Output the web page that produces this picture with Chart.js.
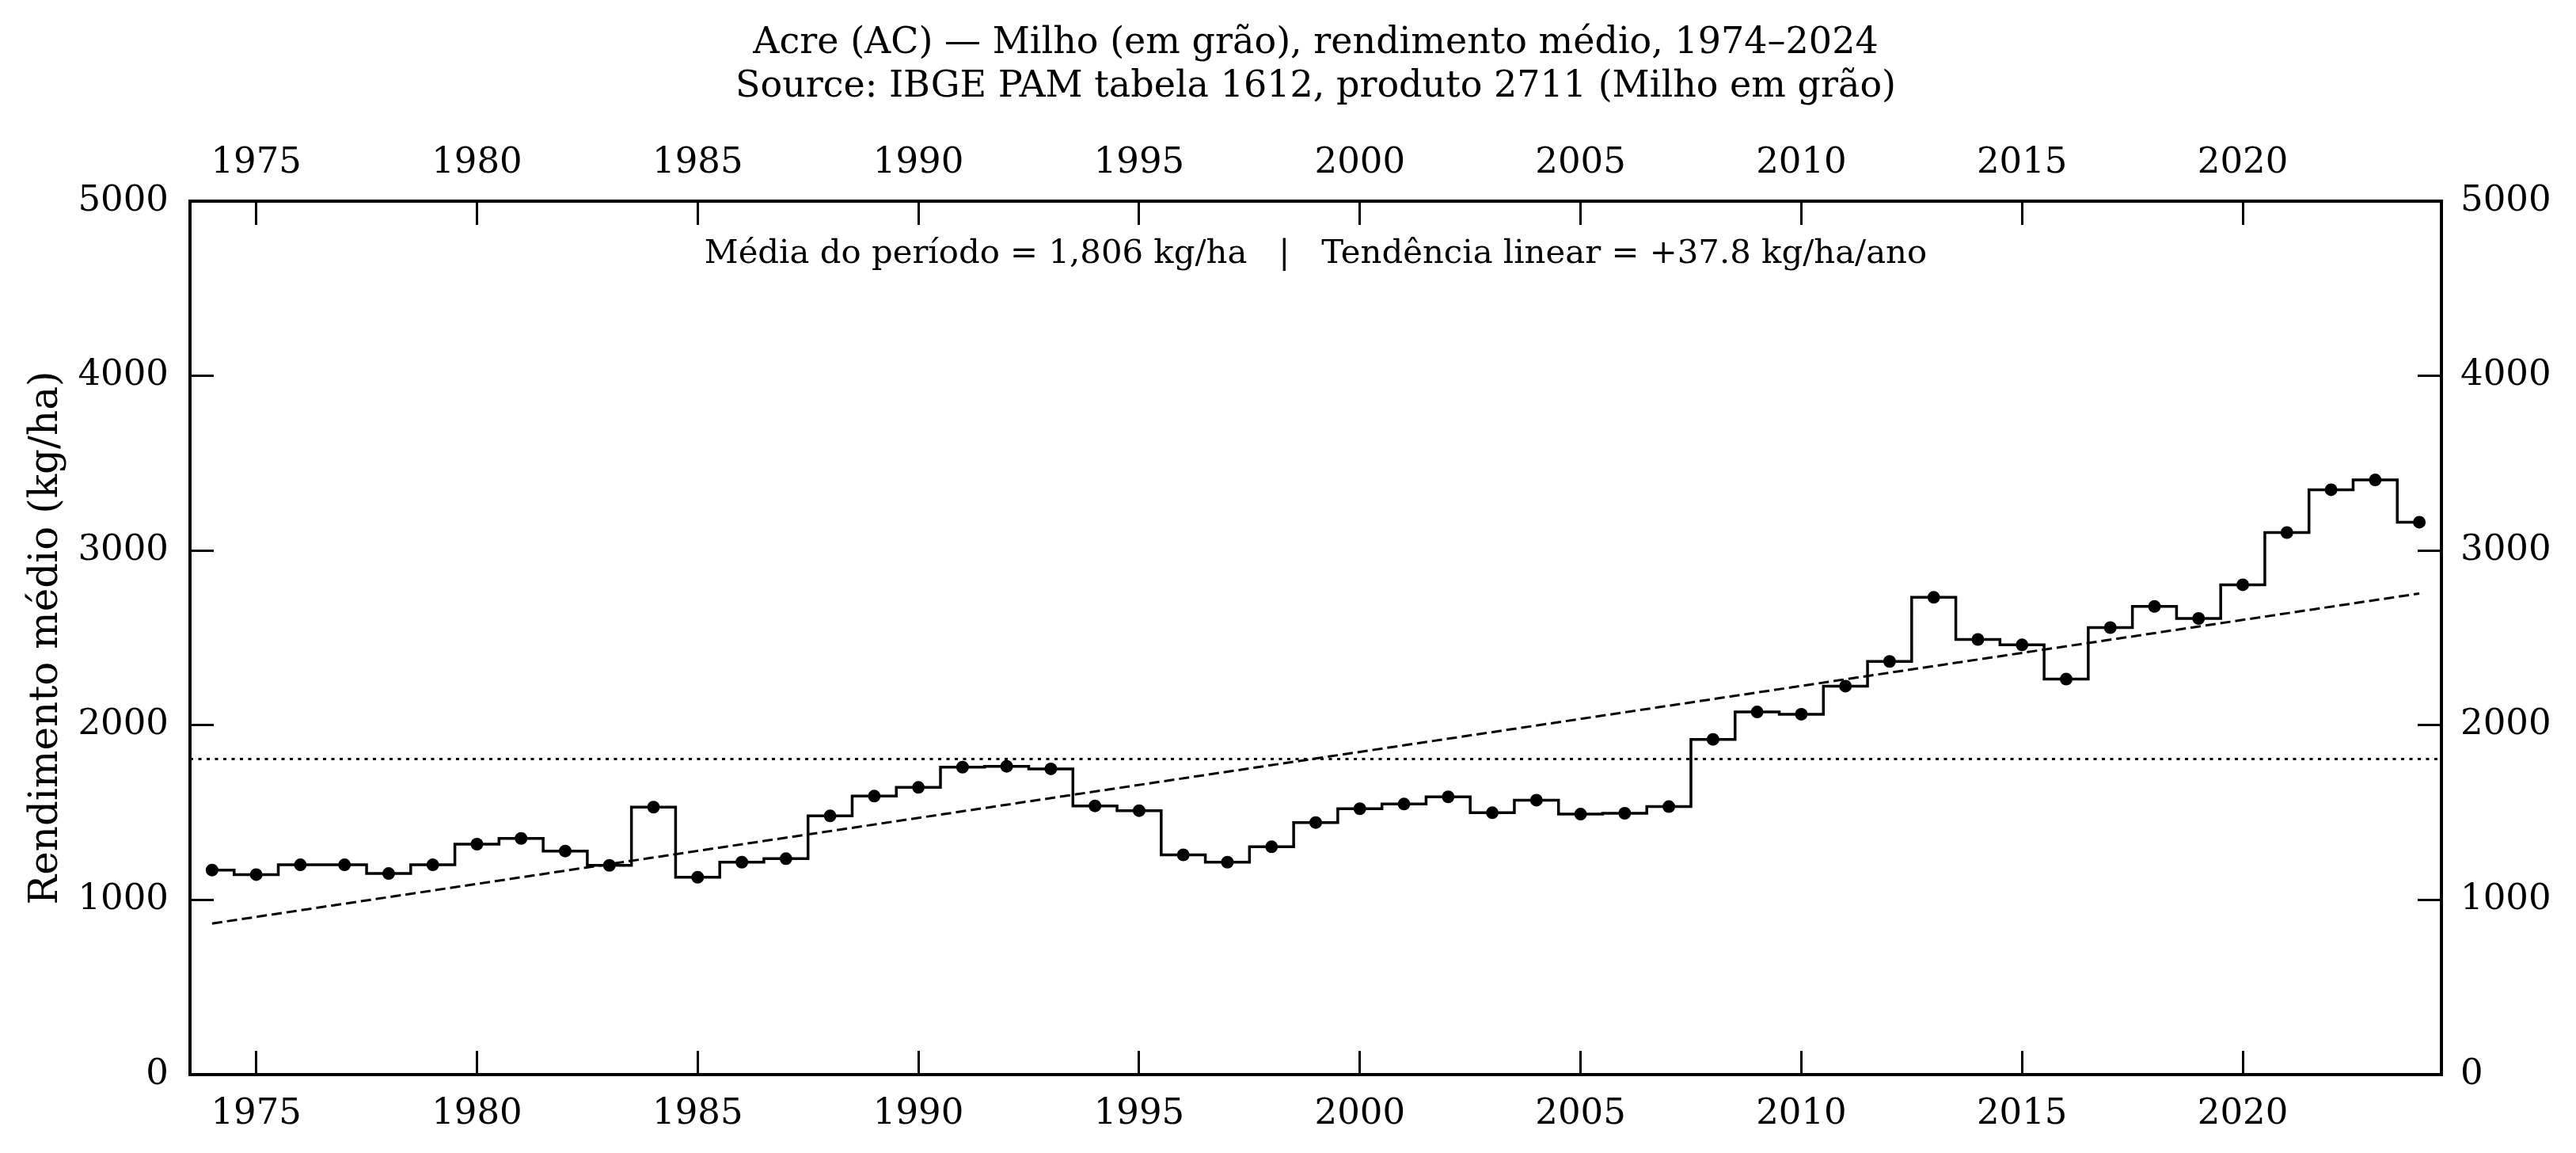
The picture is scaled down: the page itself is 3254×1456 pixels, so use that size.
<!DOCTYPE html>
<html>
<head>
<meta charset="utf-8">
<script src="https://cdn.jsdelivr.net/npm/chart.js@4"></script>
<style>
  body { margin: 0; background: #fff; }
  canvas { display: block; }
</style>
</head>
<body>
<canvas id="mycanvas" width="3254" height="1456"></canvas>
<script>
// anos da série
var years = [1974,1975,1976,1977,1978,1979,1980,1981,1982,1983,
	1984,1985,1986,1987,1988,1989,1990,1991,1992,1993,
	1994,1995,1996,1997,1998,1999,2000,2001,2002,2003,
	2004,2005,2006,2007,2008,2009,2010,2011,2012,2013,
	2014,2015,2016,2017,2018,2019,2020,2021,2022,2023,2024];

// rendimento médio (kg/ha)
var yieldKgHa = [1171,1145,1201,1201,1151,1201,1319,1352,1280,1198,
	1531,1130,1216,1236,1481,1594,1644,1760,1765,1750,
	1538,1511,1258,1216,1304,1443,1522,1549,1590,1499,
	1571,1491,1496,1534,1919,2076,2063,2224,2365,2732,
	2491,2460,2264,2559,2680,2611,2804,3103,3348,3404,3162];

var meanYield = 1806;
var trendYears = [1974, 2024];
var trendValues = [865, 2754];

var xTicks = [1975,1980,1985,1990,1995,2000,2005,2010,2015,2020];
var yTicks = [0,1000,2000,3000,4000,5000];

var xMin = 1973.5, xMax = 2024.5;

var titleLines = [
	'Acre (AC) \u2014 Milho (em gr\u00e3o), rendimento m\u00e9dio, 1974\u20132024',
	'Source: IBGE PAM tabela 1612, produto 2711 (Milho em gr\u00e3o)'
];
var noteText = 'M\u00e9dia do per\u00edodo = 1,806 kg/ha   |   Tend\u00eancia linear = +37.8 kg/ha/ano';

var serif = '"DejaVu Serif", serif';

var stepData = [];
for (var i in years) {
	stepData.push({x: years[i], y: yieldKgHa[i]});
}
var trendData = [];
for (var j in trendYears) {
	trendData.push({x: trendYears[j], y: trendValues[j]});
}
var meanData = [{x: xMin, y: meanYield}, {x: xMax, y: meanYield}];

function setTicks(list) {
	return function(scale) {
		scale.ticks = list.map(function(v) { return {value: v}; });
	};
}
function fixSize(w, h) {
	return function(scale) {
		if (w !== null) scale.width = w;
		if (h !== null) scale.height = h;
	};
}
function axisBase(pos, min, max, list, pad) {
	return {
		type: 'linear',
		position: pos,
		min: min,
		max: max,
		afterBuildTicks: setTicks(list),
		grid: {
			drawOnChartArea: false,
			drawTicks: true,
			tickLength: -30,
			tickWidth: 3,
			tickColor: '#000'
		},
		border: { display: true, color: '#000', width: 4 },
		ticks: {
			color: '#000',
			padding: pad,
			maxRotation: 0,
			autoSkip: false,
			font: { family: serif, size: 45, lineHeight: 1 },
			callback: function(v) { return String(v); }
		}
	};
}

var titlePlugin = {
	id: 'titles',
	afterDraw: function(chart) {
		var ctx = chart.ctx;
		var area = chart.chartArea;
		var cx = (area.left + area.right) / 2;
		ctx.save();
		ctx.fillStyle = '#000';
		ctx.textAlign = 'center';
		ctx.textBaseline = 'alphabetic';
		ctx.font = '46px ' + serif;
		ctx.fillText(titleLines[0], cx, 67);
		ctx.fillText(titleLines[1], cx, 122);
		ctx.font = '41.8px ' + serif;
		ctx.fillText(noteText, cx, 332);
		ctx.restore();
	}
};

var xAxis = axisBase('bottom', xMin, xMax, xTicks, 58);
xAxis.afterFit = fixSize(null, 99);
var xTop = axisBase('top', xMin, xMax, xTicks, 55);
xTop.afterFit = fixSize(null, 254);
var yAxis = axisBase('left', 0, 5000, yTicks, 57);
yAxis.afterFit = fixSize(240, null);
yAxis.title = {
	display: true,
	text: 'Rendimento m\u00e9dio (kg/ha)',
	color: '#000',
	font: { family: serif, size: 50, lineHeight: 1 },
	padding: { top: 34, bottom: 0 }
};
var yRight = axisBase('right', 0, 5000, yTicks, 54);
yRight.afterFit = fixSize(170, null);

var ctx = document.getElementById('mycanvas');

var chart = new Chart(ctx, {
	type: 'line',
	data: {
		datasets: [
			{
				label: 'Rendimento',
				data: stepData,
				stepped: 'middle',
				borderColor: '#000',
				borderWidth: 3.5,
				pointRadius: 8,
				pointBackgroundColor: '#000',
				pointBorderWidth: 0,
				fill: false,
				xAxisID: 'x',
				yAxisID: 'y'
			},
			{
				label: 'Tendência',
				data: trendData,
				borderColor: '#000',
				borderWidth: 3,
				borderDash: [13, 6],
				pointRadius: 0,
				fill: false,
				xAxisID: 'x',
				yAxisID: 'y'
			},
			{
				label: 'Média',
				data: meanData,
				borderColor: '#000',
				borderWidth: 3,
				borderDash: [4, 6.5],
				pointRadius: 0,
				fill: false,
				xAxisID: 'x',
				yAxisID: 'y'
			}
		]
	},
	options: {
		responsive: false,
		animation: false,
		devicePixelRatio: 1,
		layout: { padding: 0 },
		plugins: {
			legend: { display: false },
			tooltip: { enabled: false },
			title: { display: false }
		},
		scales: {
			x: xAxis,
			x2: xTop,
			y: yAxis,
			y2: yRight
		}
	},
	plugins: [titlePlugin]
});
</script>
</body>
</html>
